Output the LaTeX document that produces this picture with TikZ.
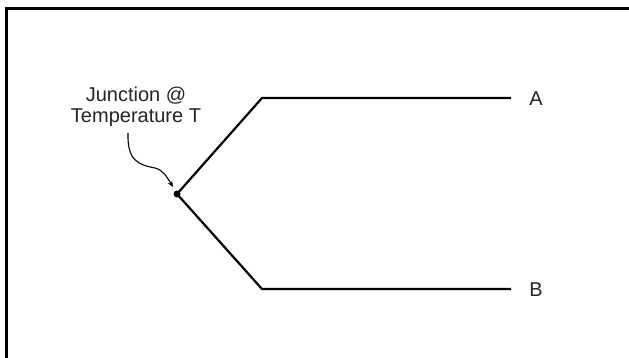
\documentclass[tikz,border=0pt]{standalone}
\usepackage{fontspec}
\setmainfont{Liberation Sans}
\usetikzlibrary{arrows.meta}
\begin{document}
\begin{tikzpicture}[x=1pt,y=-1pt,
  wire/.style={line width=2.2pt},
  frameline/.style={line width=2.2pt},
  lbl/.style={font=\fontsize{20}{21}\selectfont, inner sep=0pt, text=black!85},
  pointer/.style={line width=1.1pt, -{Stealth[length=6pt,width=5pt]}}]
\useasboundingbox (0,0) rectangle (629,358);
\fill[white] (0,0) rectangle (629,358);
% frame (top and left only visible)
\draw[frameline] (6.5,358) -- (6.5,8.5) -- (629,8.5);
% junction
\node[circle, fill=black, inner sep=0pt, minimum size=7pt] (j) at (177,194) {};
\coordinate (a1) at (262,98);
\coordinate (b1) at (262,289);
\coordinate (a2) at (511,98);
\coordinate (b2) at (511,289);
\node[lbl, anchor=center] (A) at (536,99) {A};
\node[lbl, anchor=center] (B) at (536,290) {B};
\draw[wire] (j.center) -- (a1) -- (a2);
\draw[wire] (j.center) -- (b1) -- (b2);
% label
\node[lbl, align=center, anchor=center] (t) at (136,107) {Junction @\\Temperature T};
\coordinate (c0) at (128,133);
\draw[pointer] (c0) .. controls (127,162) and (140,165) .. (155,168)
  .. controls (163,170) and (167,177) .. (173,187);
\end{tikzpicture}
\end{document}
